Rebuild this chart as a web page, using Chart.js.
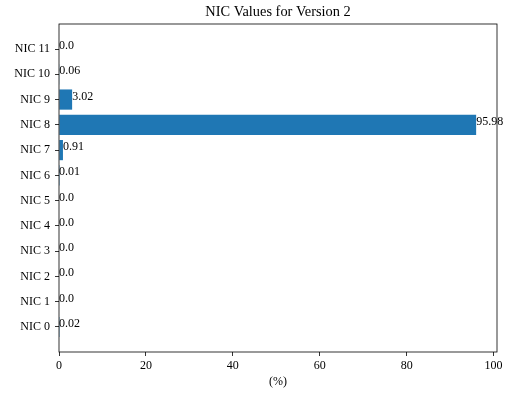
<!DOCTYPE html>
<html>
<head>
<meta charset="utf-8">
<script src="https://cdn.jsdelivr.net/npm/chart.js@4.4.1/dist/chart.umd.min.js"></script>
<style>
    html, body { margin: 0; padding: 0; background: #fff; }
    canvas { display: block; }
</style>
</head>
<body>
<canvas id="chart" width="510" height="394"></canvas>
<script>
const labels = ['NIC 0', 'NIC 1', 'NIC 2', 'NIC 3', 'NIC 4', 'NIC 5', 'NIC 6', 'NIC 7', 'NIC 8', 'NIC 9', 'NIC 10', 'NIC 11'];
const values = [0.02, 0.0, 0.0, 0.0, 0.0, 0.0, 0.01, 0.91, 95.98, 3.02, 0.06, 0.0];
const xTicks = [0, 20, 40, 60, 80, 100];

const FONT = '"Liberation Serif", "Times New Roman", serif';

const formatValue = v => (v % 1 === 0 ? v.toFixed(1) : String(v));

// title, frame and value labels, drawn the way matplotlib places them
const extras = {
    id: 'extras',
    afterDraw(chart) {
        const { ctx, chartArea: area, scales } = chart;
        ctx.save();
        ctx.strokeStyle = '#000';
        ctx.lineWidth = 0.8;
        ctx.strokeRect(area.left, area.top, area.right - area.left, area.bottom - area.top);

        ctx.fillStyle = '#000';
        ctx.font = '12px ' + FONT;
        ctx.textAlign = 'left';
        ctx.textBaseline = 'alphabetic';
        values.forEach((v, i) => {
            ctx.fillText(formatValue(v), scales.x.getPixelForValue(v), scales.y.getPixelForValue(i));
        });

        ctx.font = '14.4px ' + FONT;
        ctx.textAlign = 'center';
        ctx.textBaseline = 'middle';
        ctx.fillText('NIC Values for Version 2', (area.left + area.right) / 2, 12);
        ctx.restore();
    }
};

new Chart(document.getElementById('chart').getContext('2d'), {
    type: 'bar',
    data: {
        datasets: [{
            data: values.map((v, i) => ({ x: v, y: i })),
            backgroundColor: '#1f77b4',
            borderWidth: 0,
            barPercentage: 0.8,
            categoryPercentage: 1
        }]
    },
    options: {
        indexAxis: 'y',
        responsive: false,
        animation: false,
        events: [],
        layout: { padding: { top: 24, right: 13, left: 0, bottom: 0 } },
        plugins: { legend: { display: false }, tooltip: { enabled: false } },
        scales: {
            x: {
                type: 'linear',
                min: 0,
                max: 95.98 * 1.05,
                afterBuildTicks: s => { s.ticks = xTicks.map(value => ({ value })); },
                afterFit: s => { s.height = 42; },
                grid: { drawOnChartArea: false, drawTicks: true, tickLength: 4, color: '#000', lineWidth: 0.8 },
                border: { display: false },
                ticks: { color: '#000', font: { family: FONT, size: 12 }, padding: 3, maxRotation: 0 },
                title: { display: true, text: '(%)', color: '#000', font: { family: FONT, size: 12 }, padding: { top: 0, bottom: 5 } }
            },
            y: {
                type: 'linear',
                min: -0.99,
                max: 11.99,
                offset: false,
                afterBuildTicks: s => { s.ticks = labels.map((_, i) => ({ value: i })); },
                afterFit: s => { s.width = 59; },
                grid: { offset: false, drawOnChartArea: false, drawTicks: true, tickLength: 4, color: '#000', lineWidth: 0.8 },
                border: { display: false },
                ticks: {
                    color: '#000',
                    font: { family: FONT, size: 12 },
                    padding: 5,
                    callback: v => labels[v]
                }
            }
        }
    },
    plugins: [extras]
});
</script>
</body>
</html>
